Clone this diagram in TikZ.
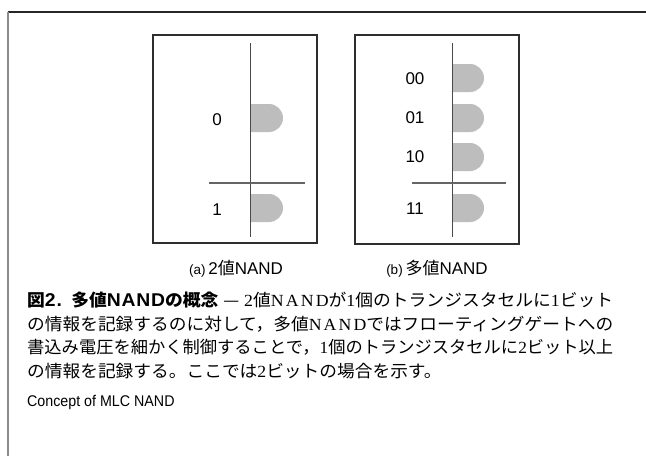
\documentclass[tikz,border=0pt]{standalone}
\usepackage{fontspec}
\usepackage{graphicx}
\setmainfont{Liberation Sans}
\newfontfamily\jp{Noto Sans CJK JP}
\newfontfamily\ser{Liberation Serif}[LetterSpace=12]
\newfontfamily\boldlat{Liberation Sans}[LetterSpace=4]
\definecolor{blobc}{HTML}{BDBDBD}
\definecolor{linec}{HTML}{4A4A4A}
\definecolor{boxc}{HTML}{2E2E2E}
\newsavebox\reflinebox
\newcommand\bodyfont{\jp\fontsize{17}{18}\selectfont}
\newcommand\lineA{{\bfseries 図{\boldlat\bfseries\fontsize{18.5}{18}\selectfont 2.}\hspace{9pt}多値{\boldlat\bfseries\fontsize{18.5}{18}\selectfont NAND}の概念}\;—\;{\ser 2}値{\ser NAND}が{\ser 1}個のトランジスタセルに{\ser 1}ビット}
\newcommand\lineB{の情報を記録するのに対して，多値{\ser NAND}ではフローティングゲートへの}
\newcommand\lineC{書込み電圧を細かく制御することで，{\ser 1}個のトランジスタセルに{\ser 2}ビット以上}
\newcommand\lineD{の情報を記録する。ここでは{\ser 2}ビットの場合を示す。}
\begin{document}
\sbox\reflinebox{\bodyfont\lineB}
\begin{tikzpicture}[x=1pt,y=-1pt,
  panel/.style={draw=boxc,line width=1.3pt},
  vline/.style={draw=linec,line width=1pt},
  hline/.style={draw=linec!85,line width=1.2pt},
  blob/.style={fill=blobc},
  lvl/.style={font=\fontsize{17}{17}\selectfont,anchor=center,inner sep=0pt},
  subcap/.style={font=\fontsize{17}{18}\selectfont,anchor=center,inner sep=0pt},
  body/.style={font=\bodyfont,anchor=west,inner sep=0pt}]
\pgfmathsetmacro\sx{586/\the\wd\reflinebox}
\useasboundingbox (0,0) rectangle (646,456);
\fill[white] (0,0) rectangle (646,456);
% outer partial frame
\draw[black!85,line width=1.3pt] (8,12) -- (646,12);
\draw[black!45,line width=1.6pt] (8,12) -- (8,456);
% panel a
\draw[panel] (153,35) rectangle (317,243);
\coordinate (at) at (250,43);
\coordinate (ab) at (250,237);
\coordinate (hl) at (209,183);
\coordinate (hr) at (305,183);
\fill[blob] (250,104) -- (269,104) arc (-90:90:14) -- (250,132) -- cycle;
\fill[blob] (250,194) -- (269,194) arc (-90:90:14) -- (250,222) -- cycle;
\draw[vline] (at) -- (ab);
\draw[hline] (hl) -- (hr);
\node[lvl] (a0) at (217,120) {0};
\node[lvl] (a1) at (217,210) {1};
\node[subcap] (capa) at (236,269) {{\fontsize{13.5}{14}\selectfont(a)}\,2{\jp 値}NAND};
% panel b
\draw[panel] (355,35) rectangle (519,244);
\coordinate (bt) at (452,43);
\coordinate (bb) at (452,237);
\coordinate (bhl) at (412,183);
\coordinate (bhr) at (506,183);
\foreach \yy in {64,104,143,194}{
  \fill[blob] (452,\yy) -- (470,\yy) arc (-90:90:14) -- (452,\yy+28) -- cycle;
}
\draw[vline] (bt) -- (bb);
\draw[hline] (bhl) -- (bhr);
\node[lvl] (b00) at (415,79) {00};
\node[lvl] (b01) at (415,118) {01};
\node[lvl] (b10) at (415,157) {10};
\node[lvl] (b11) at (415,209) {11};
\node[subcap] (capb) at (437,269) {{\fontsize{13.5}{14}\selectfont(b)}\,{\jp 多値}NAND};
% caption text
\node[body] (l1) at (27,300) {\resizebox{586pt}{\height}{\lineA}};
\node[body] (l2) at (27,324) {\resizebox{586pt}{\height}{\lineB}};
\node[body] (l3) at (27,347) {\resizebox{586pt}{\height}{\lineC}};
\node[body] (l4) at (27,371) {\scalebox{\sx}[1]{\lineD}};
\node[font=\fontsize{15.5}{16}\selectfont,anchor=west,inner sep=0pt,xscale=0.92] (en) at (27,402) {Concept of MLC NAND};
\end{tikzpicture}
\end{document}
